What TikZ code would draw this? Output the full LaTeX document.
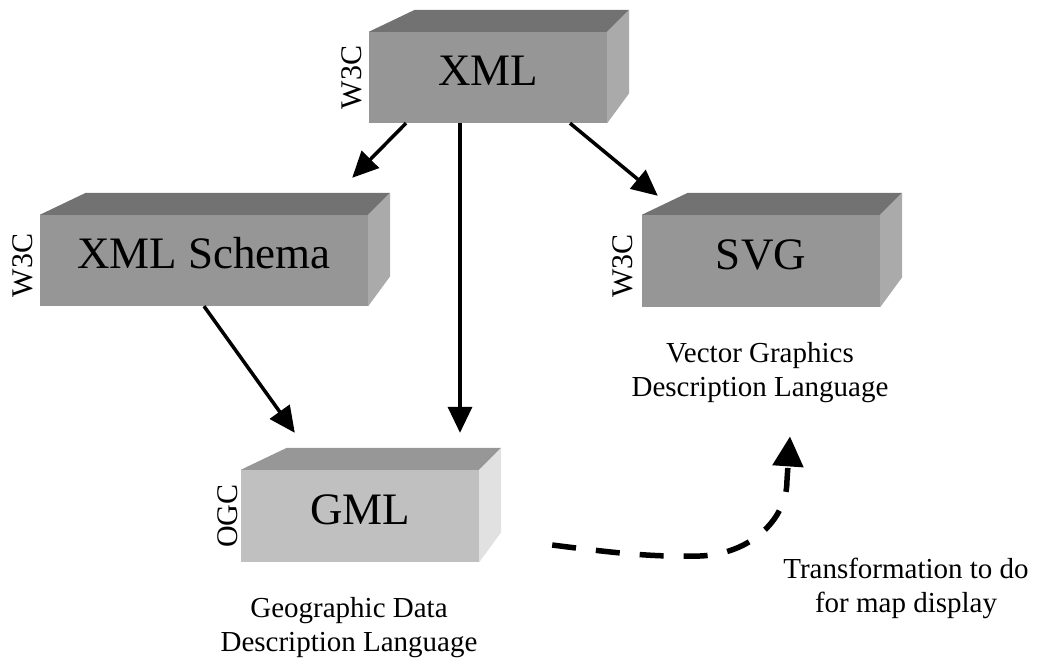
\documentclass[tikz,border=0pt]{standalone}
\usepackage{fontspec}
\setmainfont{Liberation Serif}
\usetikzlibrary{arrows.meta}

\definecolor{frontdark}{HTML}{969696}
\definecolor{topdark}{HTML}{727272}
\definecolor{sidedark}{HTML}{AAAAAA}
\definecolor{frontlight}{HTML}{C0C0C0}
\definecolor{toplight}{HTML}{979797}
\definecolor{sidelight}{HTML}{E1E1E1}

% #1 name, #2 centre of the front face, #3 width, #4 height, #5 shade set, #6 label
\newcommand\prism[6]{%
  \node[frontface, fill=front#5, minimum width=#3, minimum height=#4] (#1) at #2 {#6};
  \fill[top#5] (#1.north west) -- ++(46,-22)
    -- ([xshift=22pt,yshift=22pt]#1.north east) -- (#1.north east) -- cycle;
  \fill[side#5] (#1.north east) -- ++(22,-22)
    -- ([xshift=22pt,yshift=30pt]#1.south east) -- (#1.south east) -- cycle;
}

\begin{document}
\begin{tikzpicture}[x=1pt,y=-1pt,
  frontface/.style={inner sep=0pt, text height=30pt, text depth=14pt,
    font=\fontsize{45}{54}\selectfont},
  org/.style={rotate=90, anchor=south, inner sep=0pt,
    font=\fontsize{30}{36}\selectfont},
  desc/.style={align=center, inner sep=0pt, font=\fontsize{29}{34}\selectfont},
  arr/.style={line width=3.5pt, -{Triangle[length=26pt,width=24pt]}},
  dasharr/.style={line width=5.5pt, dash pattern=on 24pt off 20pt,
    -{Triangle[length=30pt,width=30pt]}}]
\useasboundingbox (0,0) rectangle (1039,662);

% standards as shaded blocks
\prism{xml}{(488,77.5)}{238pt}{91pt}{dark}{XML}
\prism{schema}{(204,260.5)}{328pt}{91pt}{dark}{XML Schema}
\prism{svg}{(761,261)}{238pt}{92pt}{dark}{SVG}
\prism{gml}{(360,516)}{238pt}{92pt}{light}{GML}

% issuing organisations
\node[org] (xmlorg) at ([xshift=-7pt]xml.west) {W3C};
\node[org] (schemaorg) at ([xshift=-7pt,yshift=-5pt]schema.west) {W3C};
\node[org] (svgorg) at ([xshift=-9pt,yshift=-5pt]svg.west) {W3C};
\node[org] (gmlorg) at ([xshift=-3pt]gml.west) {OGC};

% descriptions
\node[desc] (svgdesc) at (760,373) {Vector Graphics\\Description Language};
\node[desc] (gmldesc) at (349,628) {Geographic Data\\Description Language};
\node[desc] (transdesc) at (906,588) {Transformation to do\\for map display};

% derivation arrows
\draw[arr] ([xshift=-82pt]xml.south) -- ([xshift=-16pt,yshift=37pt]schema.north east);
\draw[arr] ([xshift=-28pt]xml.south) -- ([xshift=100pt,yshift=37pt]gml.north);
\draw[arr] ([xshift=82pt]xml.south) -- ([xshift=16pt,yshift=19pt]svg.north west);
\draw[arr] (schema.south) -- ([xshift=54pt,yshift=37pt]gml.north west);

% transformation still to be done
\coordinate (bend) at (700,556);
\coordinate (rise) at (787,480);
\draw[dasharr] ([xshift=73pt,yshift=-29pt]gml.east)
  .. controls +(70,9) and +(-45,1) .. (bend)
  .. controls +(50,-2) and +(0,40) .. (rise)
  -- ([xshift=30pt,yshift=-33pt]svgdesc.south);
\end{tikzpicture}
\end{document}
